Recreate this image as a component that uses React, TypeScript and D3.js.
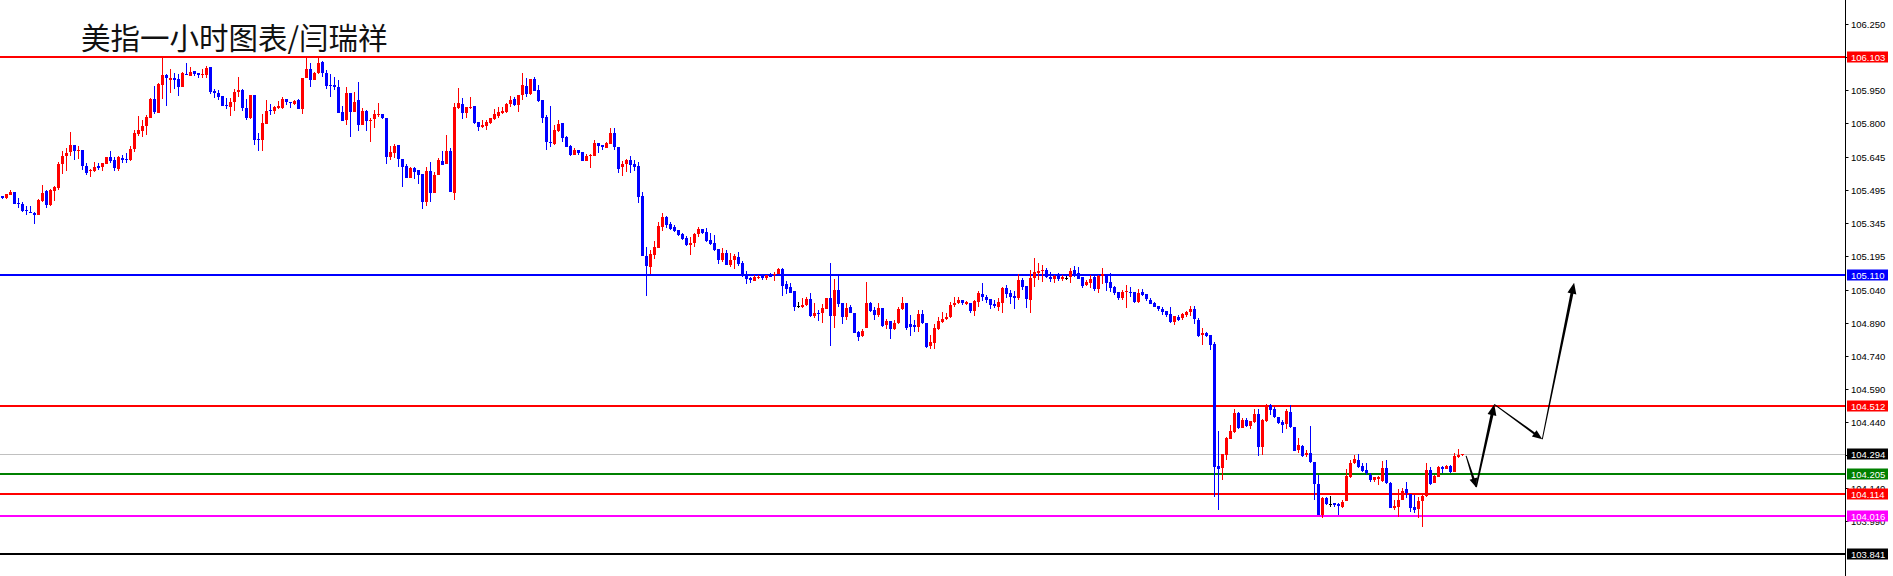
import { useEffect, useRef } from 'react'
import * as d3 from 'd3'

// hourly OHLC, oldest first
const opens = [
  105.470, 105.462, 105.476, 105.488, 105.438, 105.434, 105.406, 105.397, 105.394, 105.381,
  105.449, 105.491, 105.429, 105.494, 105.506, 105.613, 105.650, 105.669, 105.700, 105.675,
  105.679, 105.606, 105.582, 105.582, 105.606, 105.600, 105.617, 105.649, 105.632, 105.593,
  105.643, 105.640, 105.635, 105.684, 105.753, 105.767, 105.787, 105.826, 105.911, 105.849,
  105.976, 106.022, 105.999, 106.007, 106.002, 105.963, 106.025, 106.017, 106.037, 106.028,
  106.023, 106.020, 106.054, 105.946, 105.940, 105.925, 105.884, 105.876, 105.896, 105.944,
  105.952, 105.870, 105.825, 105.929, 105.729, 105.726, 105.799, 105.861, 105.854, 105.869,
  105.870, 105.911, 105.899, 105.890, 105.904, 105.867, 106.004, 106.048, 105.999, 106.028,
  106.079, 106.028, 105.976, 105.975, 105.966, 105.852, 105.813, 105.940, 105.852, 105.907,
  105.794, 105.854, 105.811, 105.820, 105.837, 105.843, 105.822, 105.649, 105.663, 105.702,
  105.638, 105.608, 105.553, 105.599, 105.588, 105.570, 105.444, 105.585, 105.485, 105.564,
  105.628, 105.616, 105.676, 105.485, 105.868, 105.889, 105.848, 105.870, 105.879, 105.806,
  105.785, 105.789, 105.801, 105.821, 105.833, 105.848, 105.852, 105.886, 105.909, 105.883,
  105.930, 105.968, 105.932, 106.002, 105.950, 105.905, 105.829, 105.715, 105.708, 105.767,
  105.801, 105.739, 105.697, 105.656, 105.679, 105.668, 105.630, 105.650, 105.653, 105.711,
  105.701, 105.688, 105.706, 105.756, 105.694, 105.600, 105.613, 105.633, 105.615, 105.606,
  105.469, 105.197, 105.148, 105.203, 105.234, 105.330, 105.374, 105.342, 105.330, 105.315,
  105.297, 105.278, 105.245, 105.257, 105.297, 105.319, 105.306, 105.269, 105.256, 105.228,
  105.177, 105.210, 105.157, 105.180, 105.192, 105.163, 105.113, 105.098, 105.084, 105.098,
  105.108, 105.096, 105.112, 105.108, 105.115, 105.137, 105.069, 105.057, 105.036, 104.969,
  104.966, 104.972, 105.000, 104.925, 104.939, 104.936, 104.956, 105.004, 104.925, 105.042,
  104.984, 104.921, 104.963, 104.939, 104.853, 104.831, 104.871, 104.981, 104.951, 104.930,
  104.959, 104.881, 104.903, 104.863, 104.890, 104.954, 104.981, 104.887, 104.883, 104.875,
  104.933, 104.893, 104.789, 104.803, 104.866, 104.898, 104.910, 104.918, 104.972, 104.981,
  104.997, 104.978, 104.983, 104.948, 104.989, 105.024, 105.012, 105.001, 104.978, 104.966,
  104.984, 105.053, 105.030, 105.015, 105.006, 105.088, 105.060, 104.997, 105.098, 105.121,
  105.130, 105.133, 105.103, 105.091, 105.113, 105.094, 105.097, 105.100, 105.133, 105.118,
  105.101, 105.065, 105.075, 105.103, 105.047, 105.106, 105.110, 105.078, 105.056, 105.035,
  105.007, 105.032, 105.035, 105.032, 104.989, 105.033, 105.024, 104.997, 104.981, 104.971,
  104.956, 104.948, 104.933, 104.898, 104.921, 104.913, 104.928, 104.943, 104.956, 104.906,
  104.837, 104.848, 104.837, 104.796, 104.242, 104.231, 104.292, 104.364, 104.398, 104.481,
  104.416, 104.451, 104.423, 104.443, 104.478, 104.330, 104.448, 104.519, 104.499, 104.463,
  104.443, 104.431, 104.489, 104.420, 104.314, 104.333, 104.292, 104.302, 104.261, 104.160,
  104.019, 104.098, 104.067, 104.072, 104.069, 104.054, 104.084, 104.190, 104.254, 104.269,
  104.242, 104.223, 104.201, 104.178, 104.181, 104.175, 104.231, 104.166, 104.049, 104.057,
  104.087, 104.135, 104.114, 104.054, 104.045, 104.082, 104.105, 104.223, 104.163, 104.193,
  104.239, 104.229, 104.242, 104.216, 104.284, 104.290,
]
const highs = [
  105.470, 105.479, 105.497, 105.488, 105.461, 105.443, 105.424, 105.424, 105.397, 105.455,
  105.520, 105.497, 105.500, 105.515, 105.622, 105.675, 105.688, 105.761, 105.700, 105.697,
  105.679, 105.619, 105.594, 105.623, 105.620, 105.619, 105.649, 105.675, 105.649, 105.652,
  105.655, 105.664, 105.696, 105.769, 105.835, 105.816, 105.837, 105.913, 105.970, 105.982,
  106.104, 106.025, 106.048, 106.031, 106.025, 106.034, 106.073, 106.055, 106.040, 106.028,
  106.046, 106.061, 106.058, 105.954, 105.951, 105.925, 105.916, 105.914, 105.957, 106.010,
  105.957, 105.911, 105.929, 105.929, 105.755, 105.843, 105.907, 105.888, 105.881, 105.902,
  105.922, 105.911, 105.899, 105.907, 105.910, 106.007, 106.104, 106.073, 106.035, 106.095,
  106.084, 106.043, 106.025, 106.010, 105.995, 105.881, 105.964, 105.940, 105.944, 105.987,
  105.872, 105.861, 105.823, 105.861, 105.894, 105.843, 105.825, 105.699, 105.707, 105.702,
  105.638, 105.614, 105.603, 105.603, 105.588, 105.570, 105.600, 105.622, 105.579, 105.641,
  105.672, 105.749, 105.687, 105.894, 105.961, 105.915, 105.874, 105.920, 105.879, 105.806,
  105.815, 105.815, 105.823, 105.865, 105.873, 105.876, 105.894, 105.924, 105.921, 105.930,
  106.029, 106.005, 106.003, 106.011, 105.974, 105.905, 105.838, 105.879, 105.791, 105.815,
  105.801, 105.744, 105.701, 105.686, 105.679, 105.668, 105.662, 105.662, 105.724, 105.711,
  105.701, 105.714, 105.779, 105.779, 105.694, 105.629, 105.638, 105.651, 105.633, 105.624,
  105.488, 105.237, 105.224, 105.265, 105.351, 105.392, 105.378, 105.351, 105.336, 105.315,
  105.303, 105.287, 105.283, 105.301, 105.330, 105.319, 105.322, 105.300, 105.292, 105.228,
  105.233, 105.224, 105.212, 105.206, 105.215, 105.175, 105.130, 105.102, 105.109, 105.112,
  105.113, 105.108, 105.121, 105.125, 105.142, 105.142, 105.083, 105.072, 105.036, 104.986,
  105.004, 105.009, 105.027, 104.984, 104.951, 104.978, 105.004, 105.163, 105.091, 105.109,
  104.984, 104.981, 104.974, 104.939, 104.857, 104.865, 105.079, 104.986, 104.966, 104.981,
  104.959, 104.909, 104.903, 104.906, 104.966, 105.009, 104.981, 104.928, 104.906, 104.951,
  104.951, 104.893, 104.837, 104.887, 104.921, 104.942, 104.939, 104.989, 105.009, 105.009,
  104.997, 104.992, 104.983, 104.995, 105.038, 105.075, 105.018, 105.001, 104.997, 105.004,
  105.057, 105.065, 105.042, 105.038, 105.113, 105.097, 105.060, 105.133, 105.188, 105.163,
  105.157, 105.141, 105.124, 105.112, 105.118, 105.109, 105.106, 105.142, 105.151, 105.147,
  105.101, 105.088, 105.109, 105.106, 105.109, 105.142, 105.110, 105.118, 105.062, 105.035,
  105.042, 105.065, 105.057, 105.035, 105.045, 105.045, 105.024, 105.004, 104.986, 104.971,
  104.966, 104.948, 104.966, 104.924, 104.928, 104.939, 104.948, 104.969, 104.969, 104.916,
  104.868, 104.852, 104.837, 104.807, 104.402, 104.296, 104.375, 104.428, 104.501, 104.487,
  104.460, 104.458, 104.448, 104.502, 104.502, 104.457, 104.524, 104.524, 104.508, 104.466,
  104.451, 104.501, 104.519, 104.420, 104.367, 104.337, 104.314, 104.425, 104.261, 104.201,
  104.102, 104.102, 104.107, 104.075, 104.072, 104.087, 104.226, 104.269, 104.292, 104.296,
  104.257, 104.254, 104.211, 104.193, 104.196, 104.264, 104.269, 104.170, 104.087, 104.136,
  104.140, 104.170, 104.114, 104.110, 104.102, 104.114, 104.254, 104.239, 104.201, 104.242,
  104.242, 104.245, 104.246, 104.299, 104.317, 104.296,
]
const lows = [
  105.455, 105.455, 105.476, 105.435, 105.415, 105.397, 105.381, 105.390, 105.340, 105.381,
  105.444, 105.417, 105.426, 105.449, 105.497, 105.570, 105.585, 105.652, 105.634, 105.640,
  105.588, 105.566, 105.556, 105.579, 105.588, 105.585, 105.617, 105.619, 105.584, 105.581,
  105.619, 105.619, 105.628, 105.669, 105.741, 105.738, 105.747, 105.825, 105.843, 105.849,
  105.911, 105.881, 105.938, 105.954, 105.925, 105.963, 106.019, 106.017, 106.017, 106.007,
  106.004, 106.004, 105.935, 105.913, 105.908, 105.881, 105.863, 105.835, 105.858, 105.922,
  105.857, 105.817, 105.820, 105.702, 105.676, 105.676, 105.799, 105.838, 105.841, 105.864,
  105.866, 105.885, 105.872, 105.885, 105.864, 105.843, 106.004, 105.967, 105.998, 106.025,
  106.013, 105.957, 105.922, 105.952, 105.849, 105.811, 105.793, 105.740, 105.852, 105.763,
  105.793, 105.767, 105.717, 105.778, 105.831, 105.819, 105.613, 105.634, 105.641, 105.603,
  105.509, 105.553, 105.553, 105.546, 105.522, 105.409, 105.424, 105.443, 105.482, 105.564,
  105.609, 105.616, 105.487, 105.451, 105.865, 105.820, 105.826, 105.865, 105.798, 105.765,
  105.780, 105.770, 105.797, 105.815, 105.824, 105.842, 105.845, 105.873, 105.880, 105.852,
  105.906, 105.921, 105.927, 105.947, 105.897, 105.803, 105.680, 105.691, 105.703, 105.762,
  105.715, 105.691, 105.651, 105.654, 105.656, 105.630, 105.630, 105.598, 105.653, 105.667,
  105.679, 105.686, 105.706, 105.679, 105.576, 105.562, 105.580, 105.575, 105.585, 105.439,
  105.197, 105.016, 105.115, 105.181, 105.234, 105.312, 105.322, 105.315, 105.307, 105.289,
  105.271, 105.240, 105.201, 105.237, 105.284, 105.295, 105.260, 105.245, 105.219, 105.160,
  105.168, 105.157, 105.145, 105.139, 105.153, 105.099, 105.069, 105.075, 105.084, 105.092,
  105.087, 105.087, 105.099, 105.084, 105.115, 105.016, 105.024, 105.030, 104.948, 104.962,
  104.962, 104.969, 104.921, 104.913, 104.901, 104.890, 104.954, 104.789, 104.871, 104.963,
  104.887, 104.906, 104.937, 104.845, 104.812, 104.827, 104.871, 104.944, 104.906, 104.921,
  104.875, 104.863, 104.819, 104.860, 104.887, 104.951, 104.860, 104.834, 104.851, 104.851,
  104.887, 104.780, 104.772, 104.775, 104.860, 104.894, 104.906, 104.916, 104.966, 104.978,
  104.975, 104.974, 104.939, 104.924, 104.966, 104.992, 104.984, 104.957, 104.962, 104.947,
  104.939, 105.007, 104.978, 104.956, 104.997, 105.042, 104.962, 104.939, 105.057, 105.088,
  105.078, 105.095, 105.080, 105.075, 105.085, 105.082, 105.088, 105.075, 105.100, 105.091,
  105.051, 105.060, 105.051, 105.039, 105.030, 105.069, 105.038, 105.035, 105.018, 104.995,
  104.997, 104.959, 105.012, 104.981, 104.984, 105.016, 104.994, 104.978, 104.963, 104.947,
  104.928, 104.918, 104.890, 104.883, 104.903, 104.906, 104.918, 104.924, 104.887, 104.830,
  104.792, 104.830, 104.769, 104.102, 104.041, 104.178, 104.269, 104.364, 104.390, 104.408,
  104.413, 104.420, 104.408, 104.436, 104.289, 104.292, 104.443, 104.474, 104.460, 104.433,
  104.393, 104.411, 104.413, 104.311, 104.299, 104.284, 104.284, 104.257, 104.087, 104.019,
  104.004, 104.064, 104.057, 104.057, 104.019, 104.051, 104.084, 104.186, 104.249, 104.231,
  104.216, 104.201, 104.167, 104.170, 104.155, 104.170, 104.160, 104.052, 104.041, 104.011,
  104.087, 104.095, 104.034, 104.026, 104.004, 103.966, 104.102, 104.155, 104.163, 104.190,
  104.208, 104.226, 104.211, 104.213, 104.277, 104.287,
]
const closes = [
  105.462, 105.479, 105.488, 105.435, 105.435, 105.403, 105.399, 105.390, 105.381, 105.452,
  105.484, 105.429, 105.496, 105.512, 105.616, 105.650, 105.666, 105.700, 105.672, 105.679,
  105.608, 105.576, 105.590, 105.600, 105.596, 105.619, 105.646, 105.629, 105.597, 105.649,
  105.635, 105.637, 105.684, 105.755, 105.770, 105.788, 105.828, 105.911, 105.851, 105.979,
  106.020, 106.004, 106.005, 105.999, 105.963, 106.028, 106.020, 106.032, 106.025, 106.020,
  106.025, 106.051, 105.943, 105.938, 105.922, 105.881, 105.878, 105.897, 105.943, 105.952,
  105.872, 105.825, 105.929, 105.725, 105.725, 105.802, 105.857, 105.854, 105.875, 105.879,
  105.911, 105.899, 105.891, 105.902, 105.867, 106.007, 106.048, 105.999, 106.031, 106.075,
  106.028, 105.972, 105.973, 105.967, 105.849, 105.811, 105.940, 105.852, 105.899, 105.794,
  105.858, 105.810, 105.817, 105.841, 105.844, 105.823, 105.649, 105.670, 105.696, 105.637,
  105.600, 105.553, 105.599, 105.579, 105.567, 105.444, 105.584, 105.482, 105.566, 105.634,
  105.612, 105.676, 105.487, 105.876, 105.894, 105.848, 105.874, 105.874, 105.803, 105.785,
  105.792, 105.808, 105.823, 105.844, 105.852, 105.858, 105.889, 105.905, 105.885, 105.930,
  105.974, 105.932, 106.002, 105.947, 105.903, 105.826, 105.717, 105.709, 105.771, 105.797,
  105.735, 105.694, 105.656, 105.679, 105.665, 105.630, 105.650, 105.656, 105.709, 105.698,
  105.692, 105.711, 105.756, 105.694, 105.594, 105.615, 105.633, 105.612, 105.603, 105.465,
  105.197, 105.153, 105.206, 105.237, 105.333, 105.374, 105.337, 105.319, 105.310, 105.292,
  105.274, 105.247, 105.256, 105.297, 105.319, 105.303, 105.265, 105.251, 105.225, 105.177,
  105.210, 105.157, 105.180, 105.198, 105.160, 105.113, 105.093, 105.087, 105.102, 105.102,
  105.096, 105.108, 105.102, 105.116, 105.139, 105.062, 105.048, 105.030, 104.966, 104.969,
  104.974, 105.000, 104.925, 104.939, 104.933, 104.959, 105.004, 104.925, 105.042, 104.980,
  104.921, 104.959, 104.939, 104.848, 104.830, 104.856, 104.981, 104.947, 104.930, 104.962,
  104.878, 104.903, 104.866, 104.892, 104.956, 104.981, 104.868, 104.872, 104.875, 104.933,
  104.890, 104.784, 104.806, 104.869, 104.903, 104.912, 104.919, 104.974, 104.984, 104.997,
  104.981, 104.986, 104.948, 104.992, 105.027, 105.009, 104.997, 104.974, 104.969, 104.988,
  105.053, 105.024, 105.012, 105.006, 105.088, 105.054, 105.000, 105.098, 105.124, 105.129,
  105.133, 105.103, 105.092, 105.107, 105.092, 105.103, 105.097, 105.127, 105.112, 105.094,
  105.062, 105.080, 105.092, 105.045, 105.106, 105.113, 105.075, 105.053, 105.030, 105.007,
  105.035, 105.038, 105.027, 104.989, 105.030, 105.019, 105.001, 104.978, 104.966, 104.954,
  104.943, 104.928, 104.895, 104.924, 104.906, 104.933, 104.943, 104.956, 104.909, 104.834,
  104.848, 104.833, 104.792, 104.239, 104.228, 104.295, 104.370, 104.401, 104.481, 104.413,
  104.451, 104.423, 104.446, 104.478, 104.326, 104.451, 104.519, 104.496, 104.463, 104.439,
  104.428, 104.493, 104.418, 104.311, 104.337, 104.289, 104.302, 104.261, 104.160, 104.019,
  104.098, 104.067, 104.067, 104.063, 104.060, 104.079, 104.196, 104.257, 104.272, 104.239,
  104.220, 104.208, 104.178, 104.190, 104.190, 104.231, 104.163, 104.052, 104.060, 104.087,
  104.129, 104.117, 104.049, 104.042, 104.082, 104.105, 104.223, 104.160, 104.196, 104.239,
  104.228, 104.242, 104.216, 104.287, 104.292, 104.294,
]

// horizontal levels drawn on the chart
const levelPrices = [106.103, 105.110, 104.512, 104.205, 104.114, 104.016, 103.841]
const levelColors = ['#ff0000', '#0000ff', '#ff0000', '#008000', '#ff0000', '#ff00ff', '#000000']
const bidPrice = 104.294

const tickLabels = [
  '106.250', '106.100', '105.950', '105.800', '105.645', '105.495', '105.345', '105.195',
  '105.040', '104.890', '104.740', '104.590', '104.440', '104.290', '104.140', '103.990',
]

// hand-drawn forecast path (bar index, price)
const arrowIdx = [365.9, 368.4, 372.95, 384.95, 392.9]
const arrowPrices = [104.287, 104.145, 104.522, 104.363, 105.075]

const title = '美指一小时图表/闫瑞祥'

export default function App() {
  const ref = useRef<HTMLDivElement>(null)

  useEffect(() => {
    if (!ref.current) return
    const container = ref.current
    container.innerHTML = ''
    document.body.style.margin = '0'

    const width = 1893
    const height = 576
    const axisX = 1845.5

    const svg = d3.select(container)
      .append('svg')
      .attr('width', width)
      .attr('height', height)
      .style('display', 'block')
      .style('background', '#fff')

    const y = d3.scaleLinear().domain([103.741, 106.361]).range([height, 0])
    const x = d3.scaleLinear().domain([0, 1]).range([2.5, 6.5])

    // levels
    levelPrices.forEach((p, i) => {
      svg.append('line')
        .attr('x1', 0).attr('x2', axisX)
        .attr('y1', Math.round(y(p))).attr('y2', Math.round(y(p)))
        .attr('stroke', levelColors[i]).attr('stroke-width', 2)
        .attr('shape-rendering', 'crispEdges')
    })
    svg.append('line')
      .attr('x1', 0).attr('x2', axisX)
      .attr('y1', Math.round(y(bidPrice)) + 0.5).attr('y2', Math.round(y(bidPrice)) + 0.5)
      .attr('stroke', '#c0c0c0').attr('stroke-width', 1)

    // candles
    const g = svg.append('g').attr('shape-rendering', 'crispEdges')
    opens.forEach((o, i) => {
      const c = closes[i]
      const col = c > o ? '#ff0000' : c < o ? '#0000ff' : '#000000'
      const cx = x(i)
      const yh = y(highs[i])
      const yl = y(lows[i])
      g.append('rect')
        .attr('x', cx - 0.5).attr('width', 1)
        .attr('y', yh).attr('height', Math.max(1, yl - yh))
        .attr('fill', col)
      const top = y(Math.max(o, c))
      const bot = y(Math.min(o, c))
      g.append('rect')
        .attr('x', cx - 1.5).attr('width', 3)
        .attr('y', top).attr('height', Math.max(1, bot - top))
        .attr('fill', col)
    })

    // forecast arrows
    const pts = arrowIdx.map((a, i) => [x(a), y(arrowPrices[i])])
    const arrowSpec = [
      { w0: 1, w1: 2.4, len: 9, half: 4 },
      { w0: 1.6, w1: 3, len: 11, half: 4.5 },
      { w0: 1, w1: 2, len: 10, half: 4 },
      { w0: 1, w1: 3, len: 11, half: 4.5 },
    ]
    arrowSpec.forEach((s, i) => {
      const [x0, y0] = pts[i]
      const [x1, y1] = pts[i + 1]
      const L = Math.hypot(x1 - x0, y1 - y0)
      const dx = (x1 - x0) / L
      const dy = (y1 - y0) / L
      const nx = -dy
      const ny = dx
      const bx = x1 - dx * s.len
      const by = y1 - dy * s.len
      const poly = [
        [x0 + nx * s.w0 / 2, y0 + ny * s.w0 / 2],
        [bx + nx * s.w1 / 2, by + ny * s.w1 / 2],
        [bx + nx * s.half, by + ny * s.half],
        [x1, y1],
        [bx - nx * s.half, by - ny * s.half],
        [bx - nx * s.w1 / 2, by - ny * s.w1 / 2],
        [x0 - nx * s.w0 / 2, y0 - ny * s.w0 / 2],
      ]
      svg.append('polygon')
        .attr('points', poly.map(p => p.join(',')).join(' '))
        .attr('fill', '#000')
    })

    // price axis
    svg.append('line')
      .attr('x1', axisX).attr('x2', axisX).attr('y1', 0).attr('y2', height)
      .attr('stroke', '#000').attr('stroke-width', 1)

    tickLabels.forEach(t => {
      const ty = Math.round(y(+t)) + 0.5
      svg.append('line')
        .attr('x1', axisX).attr('x2', axisX + 3).attr('y1', ty).attr('y2', ty)
        .attr('stroke', '#000')
      svg.append('text')
        .attr('x', 1851).attr('y', ty)
        .attr('dominant-baseline', 'central')
        .style('font-family', '"Liberation Sans", Arial, sans-serif')
        .style('font-size', '9.5px')
        .style('fill', '#000')
        .text(t)
    })

    const tags = [...levelPrices, bidPrice]
    const tagColors = [...levelColors, '#000000']
    tags.forEach((p, i) => {
      const ty = Math.round(y(p))
      svg.append('rect')
        .attr('x', 1847).attr('y', ty - 5.5).attr('width', 41).attr('height', 11)
        .attr('fill', tagColors[i])
      svg.append('text')
        .attr('x', 1851).attr('y', ty)
        .attr('dominant-baseline', 'central')
        .style('font-family', '"Liberation Sans", Arial, sans-serif')
        .style('font-size', '9.5px')
        .style('fill', '#fff')
        .text(p.toFixed(3))
    })

    // title
    svg.append('text')
      .attr('x', 81).attr('y', 36)
      .attr('dominant-baseline', 'central')
      .style('font-family', '"Noto Sans CJK SC", sans-serif')
      .style('font-size', '29.5px')
      .style('fill', '#111')
      .text(title)

    return () => { container.innerHTML = '' }
  }, [])

  return <div ref={ref} style={{ width: 1893, height: 576 }} />
}
